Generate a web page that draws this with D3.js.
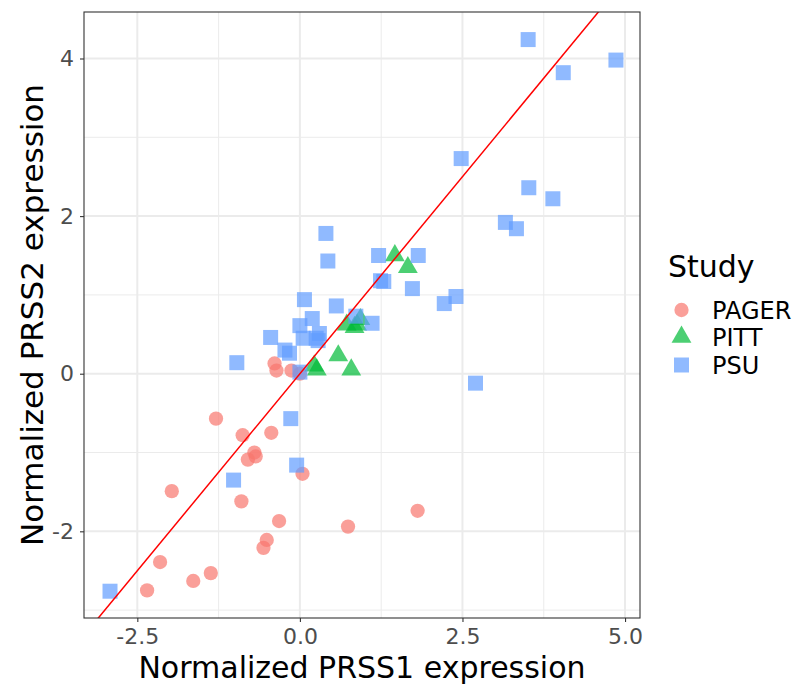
<!DOCTYPE html>
<html>
<head>
<meta charset="utf-8">
<script src="https://cdn.jsdelivr.net/npm/d3@7"></script>
<style>
  body { margin: 0; background: #fff; }
  text { font-family: "DejaVu Sans", sans-serif; }
</style>
</head>
<body>
<div id="chart"></div>
<script>
(function(){
  // study groups
  var studies = ['PAGER', 'PITT', 'PSU']
  var colors = ['#F8766D', '#00BA38', '#619CFF']

  // normalized PRSS1 (x) / PRSS2 (y) expression per study
  var pagerX = [-0.39, -0.36, -0.13, 0.00, -1.29, -0.88, -0.44, -0.70, -0.68, -0.80, 0.04, -1.97, -0.90, -0.32, -0.51, -0.56, -2.15, -1.37, -1.64, -2.35, 0.74, 1.81]
  var pagerY = [0.13, 0.04, 0.04, 0.00, -0.57, -0.78, -0.75, -1.00, -1.05, -1.09, -1.27, -1.49, -1.62, -1.87, -2.11, -2.21, -2.39, -2.53, -2.63, -2.75, -1.94, -1.74]

  var pittX = [1.46, 1.66, 0.72, 0.84, 0.88, 0.93, 0.59, 0.79, 0.22, 0.26]
  var pittY = [1.50, 1.35, 0.62, 0.59, 0.62, 0.69, 0.23, 0.05, 0.10, 0.05]

  var psuX = [3.51, 4.86, 4.05, 2.48, 3.52, 3.89, 3.16, 3.33, 0.40, 0.43, 1.21, 1.82, 1.24, 1.29, 1.73, 2.22, 2.40, 2.70, 0.56, 0.86, 1.11, 0.07, 0.19, 0.00, 0.30, 0.25, 0.05, 0.28, -0.45, -0.23, -0.16, -0.97, 0.00, -0.14, -0.05, -1.02, -2.92]
  var psuY = [4.24, 3.98, 3.82, 2.73, 2.36, 2.22, 1.92, 1.84, 1.78, 1.43, 1.50, 1.50, 1.18, 1.17, 1.08, 0.89, 0.98, -0.12, 0.86, 0.73, 0.64, 0.94, 0.70, 0.61, 0.51, 0.45, 0.45, 0.42, 0.46, 0.30, 0.26, 0.14, 0.02, -0.57, -1.16, -1.35, -2.76]

  var xDomain = [-3.32, 5.23]
  var yDomain = [-3.10, 4.59]
  var xMajor = [-2.5, 0, 2.5, 5]
  var xMinor = [-1.25, 1.25, 3.75]
  var yMajor = [-2, 0, 2, 4]
  var yMinor = [-3, -1, 1, 3]

  var W = 798, H = 686
  var m = {left: 84, right: 158, top: 12, bottom: 68}
  var pw = W - m.left - m.right, ph = H - m.top - m.bottom

  var x = d3.scaleLinear().domain(xDomain).range([0, pw])
  var y = d3.scaleLinear().domain(yDomain).range([ph, 0])

  var shapes = [d3.symbolCircle, d3.symbolTriangle, d3.symbolSquare]
  var sizes = [160, 170, 225]

  var svg = d3.select('#chart').append('svg').attr('width', W).attr('height', H)
  var g = svg.append('g').attr('transform', 'translate(' + m.left + ',' + m.top + ')')

  g.append('clipPath').attr('id', 'clip')
    .append('rect').attr('width', pw).attr('height', ph)

  // grid
  g.selectAll('.vminor').data(xMinor).enter().append('line')
    .attr('x1', x).attr('x2', x).attr('y1', 0).attr('y2', ph)
    .attr('stroke', '#EBEBEB').attr('stroke-width', 1)
  g.selectAll('.hminor').data(yMinor).enter().append('line')
    .attr('y1', y).attr('y2', y).attr('x1', 0).attr('x2', pw)
    .attr('stroke', '#EBEBEB').attr('stroke-width', 1)
  g.selectAll('.vmajor').data(xMajor).enter().append('line')
    .attr('x1', x).attr('x2', x).attr('y1', 0).attr('y2', ph)
    .attr('stroke', '#EBEBEB').attr('stroke-width', 2)
  g.selectAll('.hmajor').data(yMajor).enter().append('line')
    .attr('y1', y).attr('y2', y).attr('x1', 0).attr('x2', pw)
    .attr('stroke', '#EBEBEB').attr('stroke-width', 2)

  var rows = []
  pagerX.forEach(function(v, i) { rows.push({x: v, y: pagerY[i], s: 0}) })
  pittX.forEach(function(v, i) { rows.push({x: v, y: pittY[i], s: 1}) })
  psuX.forEach(function(v, i) { rows.push({x: v, y: psuY[i], s: 2}) })

  var pts = g.append('g').attr('clip-path', 'url(#clip)')
  pts.selectAll('path').data(rows).enter().append('path')
    .attr('d', function(d) { return d3.symbol().type(shapes[d.s]).size(sizes[d.s])() })
    .attr('transform', function(d) { return 'translate(' + x(d.x) + ',' + y(d.y) + ')' })
    .attr('fill', function(d) { return colors[d.s] })
    .attr('fill-opacity', 0.7)

  // identity line y = x
  var lo = Math.min(xDomain[0], yDomain[0]), hi = Math.max(xDomain[1], yDomain[1])
  pts.append('line')
    .attr('x1', x(lo)).attr('y1', y(lo)).attr('x2', x(hi)).attr('y2', y(hi))
    .attr('stroke', '#FF0000').attr('stroke-width', 1.5)

  g.append('rect').attr('width', pw).attr('height', ph)
    .attr('fill', 'none').attr('stroke', '#333333').attr('stroke-width', 1.1)

  // axes
  var fmtX = function(d) { return d3.format('.1f')(d).replace('−', '-') }
  var xa = g.append('g').attr('transform', 'translate(0,' + ph + ')')
    .call(d3.axisBottom(x).tickValues(xMajor).tickFormat(fmtX).tickSize(4).tickPadding(6))
  var ya = g.append('g')
    .call(d3.axisLeft(y).tickValues(yMajor).tickFormat(function(d) { return String(d) }).tickSize(4).tickPadding(6))
  ;[xa, ya].forEach(function(a) {
    a.select('.domain').remove()
    a.selectAll('line').attr('stroke', '#333333').attr('stroke-width', 1.1)
    a.selectAll('text').attr('fill', '#4D4D4D').style('font-size', '22px')
      .style('font-family', '"DejaVu Sans", sans-serif')
  })

  svg.append('text').attr('x', m.left + pw / 2).attr('y', 678)
    .attr('text-anchor', 'middle').style('font-size', '30px').text('Normalized PRSS1 expression')
  svg.append('text').attr('transform', 'translate(43,' + (m.top + ph / 2) + ') rotate(-90)')
    .attr('text-anchor', 'middle').style('font-size', '31px').text('Normalized PRSS2 expression')

  // legend
  var lg = svg.append('g').attr('transform', 'translate(668,0)')
  lg.append('text').attr('x', 0).attr('y', 277).style('font-size', '30px').text('Study')
  var keyY = [310, 337, 365]
  studies.forEach(function(s, i) {
    lg.append('path')
      .attr('d', d3.symbol().type(shapes[i]).size(sizes[i])())
      .attr('transform', 'translate(13.5,' + keyY[i] + ')')
      .attr('fill', colors[i]).attr('fill-opacity', 0.7)
    lg.append('text').attr('x', 44).attr('y', keyY[i] + 8.5)
      .style('font-size', '24px').text(s)
  })
})()
</script>
</body>
</html>
